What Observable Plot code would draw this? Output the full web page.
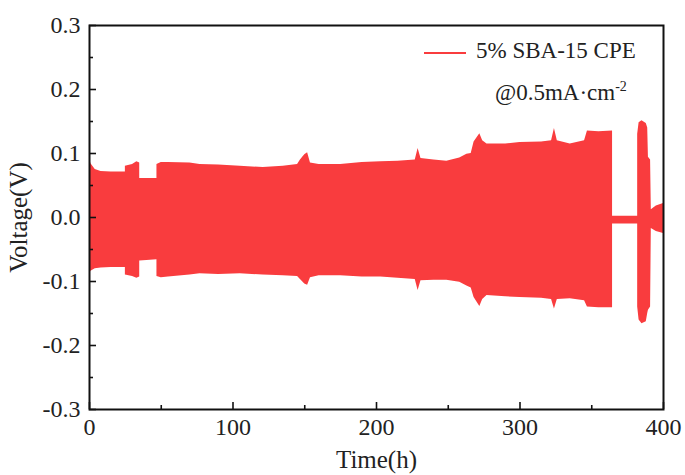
<!DOCTYPE html>
<html>
<head>
<meta charset="utf-8">
<script src="https://cdn.jsdelivr.net/npm/d3@7"></script>
<script src="https://cdn.jsdelivr.net/npm/@observablehq/plot@0.6"></script>
<style>
  html, body { margin: 0; padding: 0; background: #fff; }
  #wrap { position: relative; width: 685px; height: 475px; font-family: "Liberation Serif", "Times New Roman", serif; }
  #wrap svg [aria-label="x-axis label"], #wrap svg [aria-label="y-axis label"] { font-size: 25px; }
  #legend { position: absolute; left: 0; top: 0; font-size: 23px; color: #222; pointer-events: none; }
  .row { position: absolute; white-space: nowrap; line-height: 1; }
  .swatch { display: inline-block; width: 42px; height: 0; border-top: 2.5px solid #f93c3e; vertical-align: middle; margin-right: 10px; }
  sup { font-size: 14px; vertical-align: 9px; line-height: 0; }
</style>
</head>
<body>
<div id="wrap"></div>
<script>
// Envelope of the galvanostatic cycling voltage (upper / lower limits per time)
const time  = [0, 1, 4, 8, 15, 25, 25, 30, 33, 35, 35, 40, 47, 47, 50, 55, 70, 77, 90, 105, 121, 135, 145, 147, 150, 152, 154, 160, 175, 190, 203, 215, 227, 229, 231, 240, 249, 258, 263, 266, 268, 272, 274, 277, 290, 300, 315, 322, 324, 326, 335, 345, 347, 355, 364.5, 364.5, 382, 382, 383, 385, 388, 389, 389.5, 391, 391.5, 395, 400];
const upper = [0.093, 0.084, 0.075, 0.072, 0.071, 0.071, 0.080, 0.083, 0.087, 0.085, 0.061, 0.061, 0.061, 0.083, 0.086, 0.086, 0.085, 0.083, 0.082, 0.080, 0.078, 0.080, 0.083, 0.090, 0.098, 0.101, 0.085, 0.083, 0.083, 0.086, 0.087, 0.088, 0.090, 0.108, 0.092, 0.090, 0.088, 0.093, 0.099, 0.100, 0.118, 0.131, 0.120, 0.115, 0.115, 0.117, 0.118, 0.120, 0.139, 0.120, 0.115, 0.120, 0.135, 0.134, 0.135, 0.002, 0.002, 0.130, 0.148, 0.151, 0.147, 0.140, 0.094, 0.090, 0.012, 0.018, 0.022];
const lower = [-0.088, -0.084, -0.080, -0.079, -0.078, -0.078, -0.090, -0.092, -0.095, -0.093, -0.068, -0.067, -0.066, -0.092, -0.094, -0.093, -0.090, -0.088, -0.089, -0.088, -0.090, -0.091, -0.092, -0.097, -0.104, -0.106, -0.094, -0.091, -0.091, -0.093, -0.093, -0.095, -0.097, -0.114, -0.099, -0.098, -0.098, -0.101, -0.107, -0.110, -0.125, -0.139, -0.128, -0.122, -0.124, -0.125, -0.126, -0.128, -0.143, -0.128, -0.127, -0.130, -0.140, -0.141, -0.141, -0.010, -0.010, -0.140, -0.160, -0.166, -0.163, -0.150, -0.145, -0.140, -0.017, -0.022, -0.025];

const xTicks = [0, 100, 200, 300, 400];
const xMinorTicks = [50, 150, 250, 350];
const yTicks = [-0.3, -0.2, -0.1, 0, 0.1, 0.2, 0.3];
const yTickLabels = ["-0.3", "-0.2", "-0.1", "0.0", "0.1", "0.2", "0.3"];
const yMinorTicks = [-0.25, -0.15, -0.05, 0.05, 0.15, 0.25];

const seriesName = "5% SBA-15 CPE";
const color = "#f93c3e";

const data = time.map((t, i) => ({t, up: upper[i], lo: lower[i]}));

const W = 685, H = 475, mL = 89, mR = 22, mT = 25, mB = 66;
const pw = W - mL - mR, ph = H - mT - mB;

const chart = Plot.plot({
  width: W, height: H,
  marginLeft: mL, marginRight: mR, marginTop: mT, marginBottom: mB,
  style: {fontFamily: "Liberation Serif, Times New Roman, serif", fontSize: "24px", color: "#222", background: "#fff"},
  x: {domain: [0, 400], ticks: xTicks, tickSize: 0, tickPadding: 8, label: "Time(h)", labelAnchor: "center", labelOffset: 58, labelArrow: "none"},
  y: {domain: [-0.3, 0.3], ticks: yTicks, tickSize: 0, tickPadding: 9, tickFormat: (d, i) => yTickLabels[i], label: "Voltage(V)", labelAnchor: "center", labelOffset: 80, labelArrow: "none"},
  marks: [
    Plot.areaY(data, {x: "t", y1: "lo", y2: "up", fill: color, curve: "linear"}),
    Plot.tickX(xTicks, {x: d => d, insetTop: ph - 7, stroke: "#111", strokeWidth: 1.6}),
    Plot.tickX(xMinorTicks, {x: d => d, insetTop: ph - 4, stroke: "#111", strokeWidth: 1.6}),
    Plot.tickY(yTicks, {y: d => d, insetRight: pw - 7, stroke: "#111", strokeWidth: 1.6}),
    Plot.tickY(yMinorTicks, {y: d => d, insetRight: pw - 4, stroke: "#111", strokeWidth: 1.6}),
    Plot.frame({stroke: "#111", strokeWidth: 2})
  ]
});

const wrap = document.getElementById("wrap");
wrap.appendChild(chart);

const legend = document.createElement("div");
legend.id = "legend";
legend.innerHTML =
  `<div class="row" style="left:424px; top:39px;"><span class="swatch"></span>${seriesName}</div>` +
  `<div class="row" style="left:495px; top:81px;">@0.5mA·cm<sup>-2</sup></div>`;
wrap.appendChild(legend);
</script>
</body>
</html>
